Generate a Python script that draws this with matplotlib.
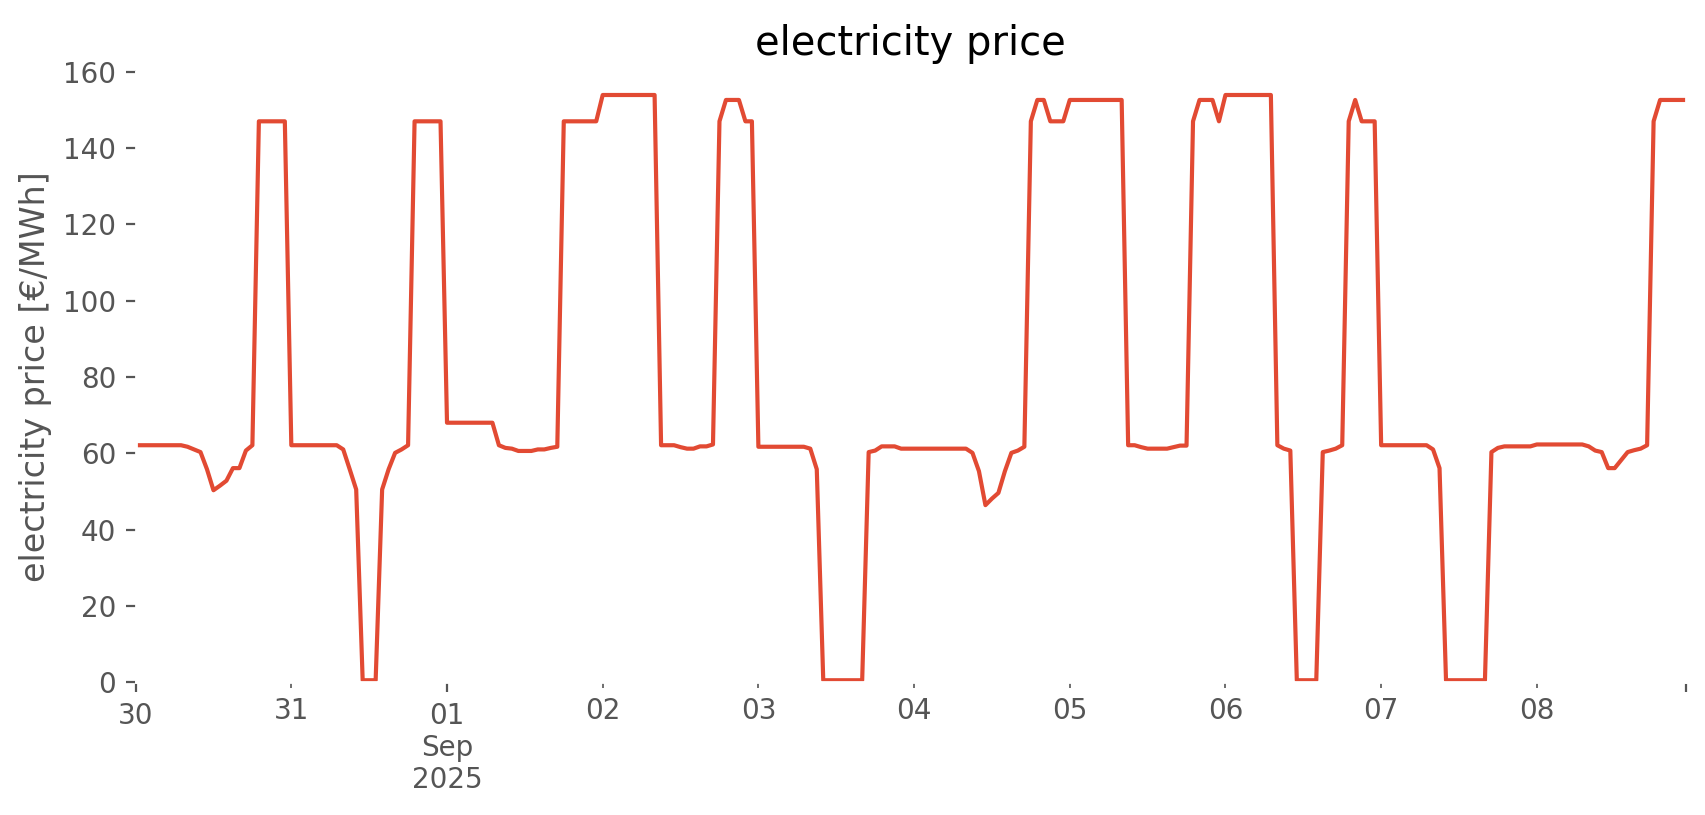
import matplotlib
matplotlib.use("Agg")
import matplotlib.pyplot as plt
import pandas as pd

# hourly electricity prices [EUR/MWh], one list per day (00:00 .. 23:00)
aug30 = [62.1, 62.1, 62.1, 62.1, 62.1, 62.1, 62.1, 62.1, 61.7, 61.0, 60.3, 55.8,
         50.3, 51.5, 52.8, 56.1, 56.1, 60.7, 62.1, 147.0, 147.0, 147.0, 147.0, 147.0]
aug31 = [62.1, 62.1, 62.1, 62.1, 62.1, 62.1, 62.1, 62.1, 61.0, 55.8, 50.5, 0.5,
         0.5, 0.5, 50.5, 55.8, 60.1, 61.0, 62.1, 147.0, 147.0, 147.0, 147.0, 147.0]
sep01 = [68.0, 68.0, 68.0, 68.0, 68.0, 68.0, 68.0, 68.0, 62.1, 61.4, 61.2, 60.6,
         60.6, 60.6, 61.0, 61.0, 61.4, 61.7, 147.0, 147.0, 147.0, 147.0, 147.0, 147.0]
sep02 = [153.9, 153.9, 153.9, 153.9, 153.9, 153.9, 153.9, 153.9, 153.9, 62.1, 62.1, 62.1,
         61.6, 61.2, 61.2, 61.8, 61.8, 62.3, 147.0, 152.6, 152.6, 152.6, 147.0, 147.0]
sep03 = [61.7, 61.7, 61.7, 61.7, 61.7, 61.7, 61.7, 61.7, 61.2, 55.8, 0.5, 0.5,
         0.5, 0.5, 0.5, 0.5, 0.5, 60.3, 60.7, 61.8, 61.8, 61.8, 61.2, 61.2]
sep04 = [61.2, 61.2, 61.2, 61.2, 61.2, 61.2, 61.2, 61.2, 61.2, 60.1, 55.3, 46.4,
         48.1, 49.6, 55.3, 60.1, 60.7, 61.7, 147.0, 152.6, 152.6, 147.0, 147.0, 147.0]
sep05 = [152.6, 152.6, 152.6, 152.6, 152.6, 152.6, 152.6, 152.6, 152.6, 62.1, 62.1, 61.6,
         61.2, 61.2, 61.2, 61.2, 61.6, 62.0, 62.0, 147.0, 152.6, 152.6, 152.6, 147.0]
sep06 = [153.9, 153.9, 153.9, 153.9, 153.9, 153.9, 153.9, 153.9, 62.1, 61.2, 60.7, 0.5,
         0.5, 0.5, 0.5, 60.3, 60.7, 61.2, 62.1, 147.0, 152.6, 147.0, 147.0, 147.0]
sep07 = [62.1, 62.1, 62.1, 62.1, 62.1, 62.1, 62.1, 62.1, 61.0, 56.1, 0.5, 0.5,
         0.5, 0.5, 0.5, 0.5, 0.5, 60.3, 61.4, 61.8, 61.8, 61.8, 61.8, 61.8]
sep08 = [62.3, 62.3, 62.3, 62.3, 62.3, 62.3, 62.3, 62.3, 61.8, 60.7, 60.3, 56.1,
         56.1, 58.2, 60.3, 60.8, 61.2, 62.1, 147.0, 152.6, 152.6, 152.6, 152.6, 152.6]

prices = aug30 + aug31 + sep01 + sep02 + sep03 + sep04 + sep05 + sep06 + sep07 + sep08
index = pd.date_range("2025-08-30 00:00", periods=len(prices), freq="h")
series = pd.Series(prices, index=index)

plt.style.use("ggplot")
fig = plt.figure(figsize=(1706 / 200, 815 / 200), dpi=200)
ax = fig.add_subplot(111)
series.plot(ax=ax)

ax.set_facecolor("white")
ax.grid(False)
ax.set_ylim(0, 160)
ax.set_xlabel("")
ax.set_ylabel("electricity price [€/MWh]")
ax.set_title("electricity price")

fig.subplots_adjust(left=0.0795, right=0.9883, bottom=0.163, top=0.912)
fig.savefig("out.png", dpi=200, facecolor="white")
